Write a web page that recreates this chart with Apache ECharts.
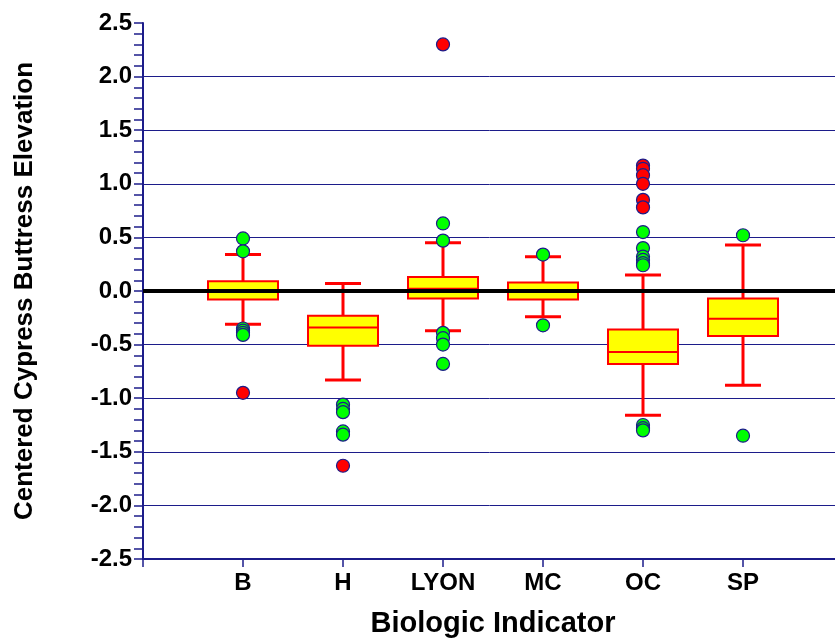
<!DOCTYPE html>
<html>
<head>
<meta charset="utf-8">
<script src="https://cdn.jsdelivr.net/npm/echarts@6/dist/echarts.min.js"></script>
<style>
html,body{margin:0;padding:0;background:#fff;}
#chart{width:835px;height:638px;}
</style>
</head>
<body>
<div id="chart"></div>
<script>
var categories = ['B', 'H', 'LYON', 'MC', 'OC', 'SP'];
var whiskerLow  = [-0.31, -0.83, -0.37, -0.24, -1.16, -0.88];
var q1          = [-0.08, -0.51, -0.07, -0.08, -0.68, -0.42];
var median      = [0.00, -0.34, 0.02, 0.00, -0.57, -0.26];
var q3          = [0.09, -0.23, 0.13, 0.08, -0.36, -0.07];
var whiskerHigh = [0.34, 0.07, 0.45, 0.32, 0.15, 0.43];

var greenOutliers = [
  [0.49, 0.37, -0.35, -0.37, -0.39, -0.41],
  [-1.06, -1.10, -1.13, -1.31, -1.34],
  [0.63, 0.47, -0.39, -0.44, -0.50, -0.68],
  [0.34, -0.32],
  [0.55, 0.40, 0.32, 0.29, 0.26, 0.24, -1.25, -1.28, -1.30],
  [0.52, -1.35]
];
var redOutliers = [
  [-0.95],
  [-1.63],
  [2.30],
  [],
  [1.17, 1.14, 1.08, 1.00, 0.85, 0.78],
  []
];
var yTicks = [-2.5, -2.0, -1.5, -1.0, -0.5, 0.0, 0.5, 1.0, 1.5, 2.0, 2.5];

var boxData = categories.map(function (c, i) {
  return [i + 1, whiskerLow[i], q1[i], median[i], q3[i], whiskerHigh[i]];
});
function pts(list) {
  var out = [];
  list.forEach(function (vals, i) {
    vals.forEach(function (v) { out.push([i + 1, v]); });
  });
  return out;
}

var navy = '#1c1c8a';
var FONT = 'Liberation Sans, Arial, sans-serif';
var chart = echarts.init(document.getElementById('chart'));
chart.setOption({
  animation: false,
  backgroundColor: '#ffffff',
  grid: { left: 143, top: 23, width: 700, height: 536, containLabel: false, outerBoundsMode: 'none' },
  xAxis: {
    type: 'value', min: 0, max: 7, interval: 1,
    name: 'Biologic Indicator', nameLocation: 'middle', nameGap: 50,
    nameTextStyle: { fontFamily: FONT, fontWeight: 'bold', fontSize: 29, color: '#000' },
    axisLine: { show: true, onZero: false, lineStyle: { color: navy, width: 2 } },
    axisTick: { show: true, inside: false, length: 8, lineStyle: { color: navy, width: 1.5 } },
    axisLabel: {
      margin: 12, fontFamily: FONT, fontWeight: 'bold', fontSize: 24, color: '#000',
      formatter: function (v) { return categories[v - 1] || ''; }
    },
    splitLine: { show: false }
  },
  yAxis: {
    type: 'value', min: -2.5, max: 2.5, interval: 0.5,
    name: 'Centered Cypress Buttress Elevation', nameLocation: 'middle', nameGap: 105, nameRotate: 90,
    nameTextStyle: { fontFamily: FONT, fontWeight: 'bold', fontSize: 26, color: '#000' },
    axisLine: { show: true, lineStyle: { color: navy, width: 2 } },
    axisTick: { show: true, inside: false, length: 9, lineStyle: { color: navy, width: 1.5 } },
    minorTick: { show: true, splitNumber: 5, length: 9, lineStyle: { color: navy, width: 1.5 } },
    axisLabel: {
      margin: 11, fontFamily: FONT, fontWeight: 'bold', fontSize: 24, color: '#000',
      formatter: function (v) { return v.toFixed(1); }
    },
    splitLine: { show: true, showMinLine: false, showMaxLine: false, lineStyle: { color: navy, width: 1 } }
  },
  series: [
    {
      type: 'custom',
      z: 2,
      data: boxData,
      encode: { x: 0, y: [1, 2, 3, 4, 5] },
      renderItem: function (params, api) {
        var x = api.value(0);
        var pWl = api.coord([x, api.value(1)]);
        var pQ1 = api.coord([x, api.value(2)]);
        var pMd = api.coord([x, api.value(3)]);
        var pQ3 = api.coord([x, api.value(4)]);
        var pWh = api.coord([x, api.value(5)]);
        var cx = pMd[0], hw = 35, cw = 18;
        var red = '#ff0000';
        var ls = { stroke: red, lineWidth: 3 };
        return {
          type: 'group',
          children: [
            { type: 'line', shape: { x1: cx, y1: pQ3[1], x2: cx, y2: pWh[1] }, style: ls },
            { type: 'line', shape: { x1: cx, y1: pQ1[1], x2: cx, y2: pWl[1] }, style: ls },
            { type: 'line', shape: { x1: cx - cw, y1: pWh[1], x2: cx + cw, y2: pWh[1] }, style: ls },
            { type: 'line', shape: { x1: cx - cw, y1: pWl[1], x2: cx + cw, y2: pWl[1] }, style: ls },
            { type: 'rect', shape: { x: cx - hw, y: pQ3[1], width: 2 * hw, height: pQ1[1] - pQ3[1] },
              style: { fill: '#ffff00', stroke: red, lineWidth: 2 } },
            { type: 'line', shape: { x1: cx - hw, y1: pMd[1], x2: cx + hw, y2: pMd[1] },
              style: { stroke: red, lineWidth: 2 } }
          ]
        };
      }
    },
    {
      type: 'line',
      z: 3,
      data: [],
      markLine: {
        silent: true, symbol: 'none', label: { show: false },
        lineStyle: { color: '#000', width: 4, type: 'solid' },
        data: [{ yAxis: yTicks[5] }]
      }
    },
    {
      type: 'scatter',
      z: 4,
      symbol: 'circle',
      symbolSize: 13,
      itemStyle: { color: '#00ff00', borderColor: navy, borderWidth: 1.2, opacity: 1 },
      data: pts(greenOutliers)
    },
    {
      type: 'scatter',
      z: 4,
      symbol: 'circle',
      symbolSize: 13,
      itemStyle: { color: '#ff0000', borderColor: navy, borderWidth: 1.2, opacity: 1 },
      data: pts(redOutliers)
    }
  ]
});
</script>
</body>
</html>
